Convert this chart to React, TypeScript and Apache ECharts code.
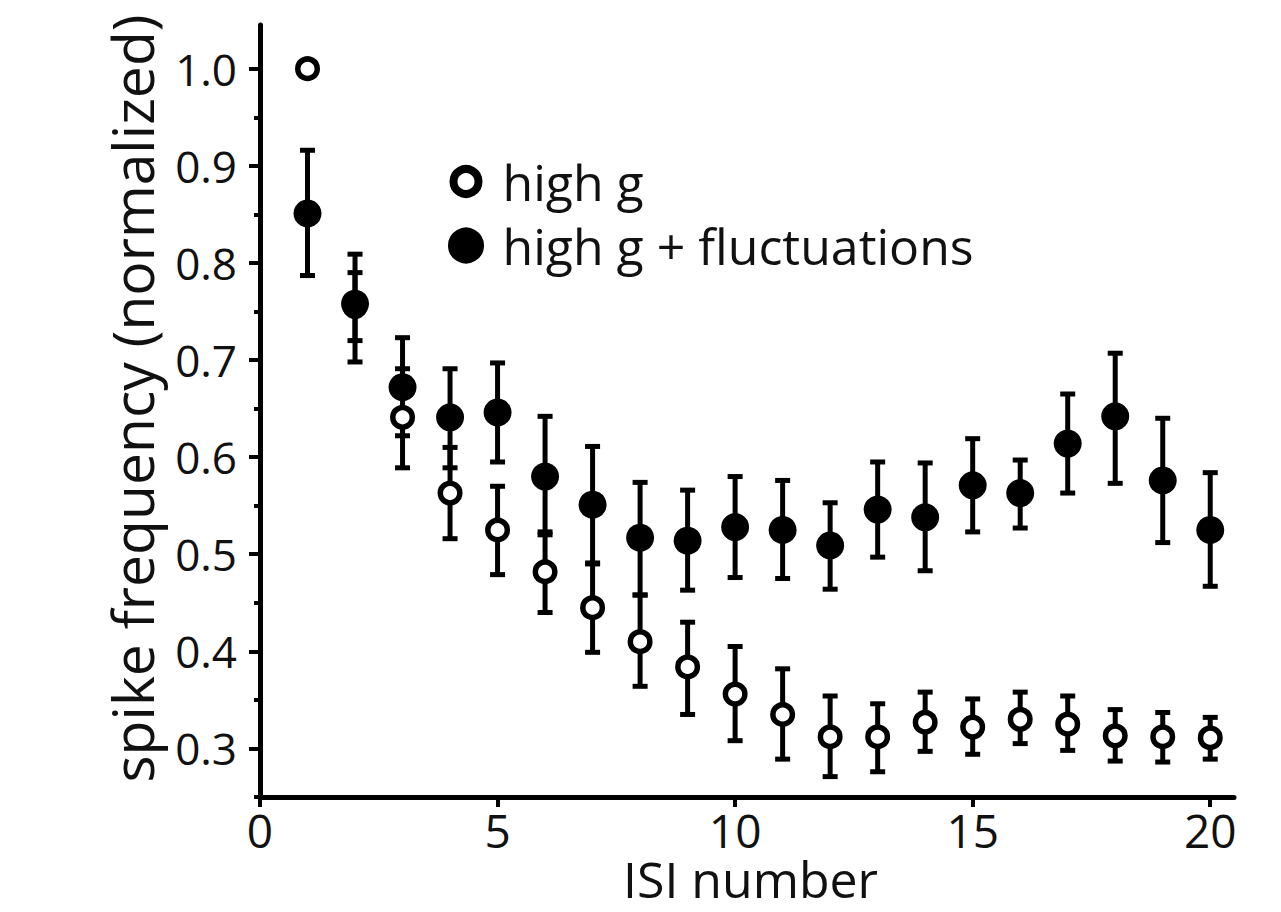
import React, { useEffect, useRef } from "react";
import * as echarts from "echarts";

const isi = [1, 2, 3, 4, 5, 6, 7, 8, 9, 10, 11, 12, 13, 14, 15, 16, 17, 18, 19, 20];

const highG = [1.0, 0.755, 0.641, 0.563, 0.525, 0.482, 0.445, 0.41, 0.384, 0.356, 0.335, 0.312, 0.312, 0.327, 0.322, 0.33, 0.325, 0.313, 0.312, 0.311];
const highGLow = [null, 0.72, 0.589, 0.516, 0.479, 0.44, 0.399, 0.364, 0.335, 0.308, 0.289, 0.271, 0.276, 0.297, 0.294, 0.305, 0.298, 0.287, 0.286, 0.289];
const highGHigh = [null, 0.79, 0.691, 0.61, 0.57, 0.523, 0.49, 0.458, 0.43, 0.405, 0.382, 0.354, 0.346, 0.358, 0.351, 0.358, 0.354, 0.34, 0.337, 0.332];

const fluct = [0.851, 0.758, 0.672, 0.641, 0.646, 0.58, 0.551, 0.517, 0.514, 0.528, 0.525, 0.509, 0.546, 0.538, 0.571, 0.563, 0.614, 0.642, 0.576, 0.525];
const fluctLow = [0.787, 0.698, 0.622, 0.589, 0.595, 0.52, 0.491, 0.458, 0.463, 0.476, 0.475, 0.464, 0.497, 0.483, 0.523, 0.527, 0.563, 0.573, 0.512, 0.467];
const fluctHigh = [0.916, 0.809, 0.723, 0.691, 0.697, 0.642, 0.611, 0.574, 0.566, 0.58, 0.576, 0.553, 0.595, 0.594, 0.619, 0.597, 0.665, 0.707, 0.64, 0.584];

const xTicks = [0, 5, 10, 15, 20];
const yMajorTicks = [0.3, 0.4, 0.5, 0.6, 0.7, 0.8, 0.9, 1.0];
const yMinorTicks = [0.25, 0.35, 0.45, 0.55, 0.65, 0.75, 0.85, 0.95];

const seriesNames = ["high g", "high g + fluctuations"];
const xAxisTitle = "ISI number";
const yAxisTitle = "spike frequency (normalized)";

const FONT = "'Open Sans', 'Noto Sans', sans-serif";

function errData(lo: (number | null)[], hi: (number | null)[]) {
  const out: number[][] = [];
  isi.forEach((x, i) => {
    const l = lo[i];
    const h = hi[i];
    if (l != null && h != null) out.push([x, l, h]);
  });
  return out;
}

function renderErr(_params: any, api: any) {
  const x = api.value(0);
  const pLo = api.coord([x, api.value(1)]);
  const pHi = api.coord([x, api.value(2)]);
  const hw = 7.5;
  const st = { stroke: "#000", lineWidth: 5 };
  return {
    type: "group",
    children: [
      { type: "line", shape: { x1: pLo[0], y1: pLo[1], x2: pHi[0], y2: pHi[1] }, style: st },
      { type: "line", shape: { x1: pLo[0] - hw, y1: pLo[1], x2: pLo[0] + hw, y2: pLo[1] }, style: st },
      { type: "line", shape: { x1: pHi[0] - hw, y1: pHi[1], x2: pHi[0] + hw, y2: pHi[1] }, style: st },
    ],
  };
}

export default function App() {
  const ref = useRef<HTMLDivElement>(null);
  useEffect(() => {
    if (!ref.current) return;
    const chart = echarts.init(ref.current, null, { renderer: "svg" });
    const yMin = 0.25;
    const yMax = 1.045;
    chart.setOption({
      animation: false,
      backgroundColor: "#fff",
      grid: { left: 260, right: 47, top: 25, bottom: 115, outerBoundsMode: "none", containLabel: false },
      legend: {
        orient: "vertical",
        left: 443,
        top: 151,
        itemWidth: 25,
        itemHeight: 25,
        itemGap: 13,
        selectedMode: false,
        data: [
          { name: seriesNames[0], itemStyle: { color: "#fff", borderColor: "#000", borderWidth: 8 } },
          { name: seriesNames[1], itemStyle: { color: "#000", borderColor: "#000", borderWidth: 11 } },
        ],
        textStyle: { fontFamily: FONT, fontSize: 50, color: "#111", lineHeight: 51, padding: [0, 0, 0, 19] },
      },
      graphic: [
        {
          type: "text",
          left: 623,
          top: 854,
          silent: true,
          style: {
            text: xAxisTitle,
            fontFamily: FONT,
            fontSize: 50,
            fill: "#111",
          },
        },
      ],
      xAxis: {
        type: "value",
        min: 0,
        max: 20.5,
        splitLine: { show: false },
        axisLine: { show: true, onZero: false, lineStyle: { color: "#000", width: 5 } },
        axisTick: { show: true, customValues: xTicks, length: 10, lineStyle: { color: "#000", width: 4 } },
        axisLabel: { customValues: xTicks, margin: 10, fontFamily: FONT, fontSize: 46, color: "#111" },
      },
      yAxis: [
        {
          type: "value",
          min: yMin,
          max: yMax,
          name: yAxisTitle,
          nameLocation: "middle",
          nameGap: 100,
          nameTextStyle: { fontFamily: FONT, fontSize: 57, color: "#111", padding: [0, 0, 0, 25] },
          splitLine: { show: false },
          axisLine: { show: true, onZero: false, lineStyle: { color: "#000", width: 5 } },
          axisTick: { show: true, customValues: yMajorTicks, length: 11, lineStyle: { color: "#000", width: 4 } },
          axisLabel: {
            customValues: yMajorTicks,
            margin: 23,
            fontFamily: FONT,
            fontSize: 44,
            color: "#111",
            formatter: (v: number) => v.toFixed(1),
          },
        },
        {
          type: "value",
          min: yMin,
          max: yMax,
          position: "left",
          splitLine: { show: false },
          axisLine: { show: false },
          axisTick: { show: true, customValues: yMinorTicks, length: 6, lineStyle: { color: "#000", width: 4 } },
          axisLabel: { show: false },
        },
      ],
      series: [
        {
          type: "custom",
          name: "fluct-err",
          renderItem: renderErr,
          encode: { x: 0, y: [1, 2] },
          data: errData(fluctLow, fluctHigh),
          z: 2,
        },
        {
          type: "custom",
          name: "highg-err",
          renderItem: renderErr,
          encode: { x: 0, y: [1, 2] },
          data: errData(highGLow, highGHigh),
          z: 2,
        },
        {
          type: "scatter",
          name: seriesNames[0],
          symbol: "circle",
          symbolSize: 19.5,
          itemStyle: { color: "#fff", borderColor: "#000", borderWidth: 5.5, opacity: 1 },
          data: isi.map((x, i) => [x, highG[i]]),
          z: 3,
        },
        {
          type: "scatter",
          name: seriesNames[1],
          symbol: "circle",
          symbolSize: 28,
          itemStyle: { color: "#000", opacity: 1 },
          data: isi.map((x, i) => [x, fluct[i]]),
          z: 4,
        },
      ],
    });
    return () => chart.dispose();
  }, []);
  return (
    <div
      ref={ref}
      style={{ position: "fixed", left: 0, top: 0, width: 1281, height: 912, background: "#fff" }}
    />
  );
}
